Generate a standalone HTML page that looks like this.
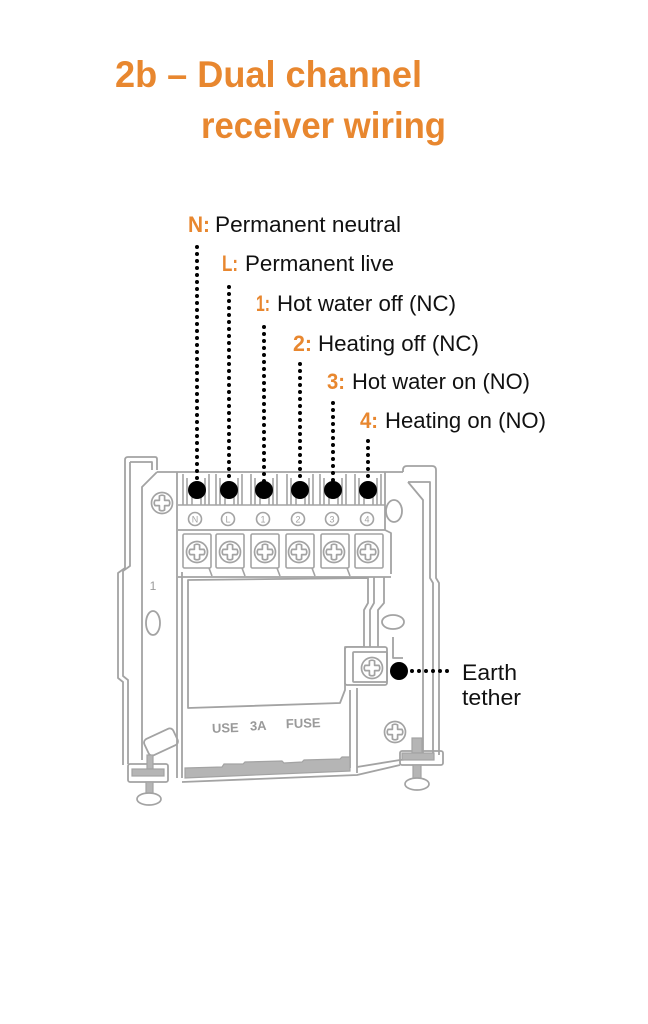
<!DOCTYPE html>
<html><head><meta charset="utf-8"><style>
html,body{margin:0;padding:0;background:#fff;}
svg{display:block;}
</style></head><body>
<svg width="648" height="1024" viewBox="0 0 648 1024" xmlns="http://www.w3.org/2000/svg">
<defs>
<g id="scr" fill="#fff" stroke="#a3a3a3" stroke-width="1.7">
<circle r="10.5"/>
<path d="M-2.6,-7 Q0,-8.6 2.6,-7 L2.6,-2.6 L7,-2.6 Q8.6,0 7,2.6 L2.6,2.6 L2.6,7 Q0,8.6 -2.6,7 L-2.6,2.6 L-7,2.6 Q-8.6,0 -7,-2.6 L-2.6,-2.6 Z" stroke-linejoin="round"/>
</g>
</defs>

<!-- Title -->
<g font-family="Liberation Sans, sans-serif" font-weight="bold" font-size="37" fill="#E8872F">
<text x="115" y="87" textLength="307" lengthAdjust="spacingAndGlyphs">2b – Dual channel</text>
<text x="201" y="138" textLength="245" lengthAdjust="spacingAndGlyphs">receiver wiring</text>
</g>

<!-- Labels -->
<g font-family="Liberation Sans, sans-serif" font-size="22">
<text x="188" y="232" fill="#E8872F" font-weight="bold" textLength="22" lengthAdjust="spacingAndGlyphs">N:</text>
<text x="215" y="232" fill="#111" textLength="186" lengthAdjust="spacingAndGlyphs">Permanent neutral</text>
<text x="222" y="271" fill="#E8872F" font-weight="bold" textLength="16" lengthAdjust="spacingAndGlyphs">L:</text>
<text x="245" y="271" fill="#111" textLength="149" lengthAdjust="spacingAndGlyphs">Permanent live</text>
<text x="256" y="311" fill="#E8872F" font-weight="bold" textLength="14" lengthAdjust="spacingAndGlyphs">1:</text>
<text x="277" y="311" fill="#111" textLength="179" lengthAdjust="spacingAndGlyphs">Hot water off (NC)</text>
<text x="293" y="351" fill="#E8872F" font-weight="bold" textLength="19" lengthAdjust="spacingAndGlyphs">2:</text>
<text x="318" y="351" fill="#111" textLength="161" lengthAdjust="spacingAndGlyphs">Heating off (NC)</text>
<text x="327" y="389" fill="#E8872F" font-weight="bold" textLength="18" lengthAdjust="spacingAndGlyphs">3:</text>
<text x="352" y="389" fill="#111" textLength="178" lengthAdjust="spacingAndGlyphs">Hot water on (NO)</text>
<text x="360" y="428" fill="#E8872F" font-weight="bold" textLength="18" lengthAdjust="spacingAndGlyphs">4:</text>
<text x="385" y="428" fill="#111" textLength="161" lengthAdjust="spacingAndGlyphs">Heating on (NO)</text>
<text x="462" y="680" fill="#111" textLength="55" lengthAdjust="spacingAndGlyphs">Earth</text>
<text x="462" y="705" fill="#111" textLength="59" lengthAdjust="spacingAndGlyphs">tether</text>
</g>

<!-- Plate drawing -->
<g fill="none" stroke="#a3a3a3" stroke-width="1.8" stroke-linejoin="round">
<!-- outer outline left -->
<path d="M157,470 L157,459 Q157,457 155,457 L128,457 Q125,457 125,460 L125,568 L118,573 L118,678 L123,682 L123,765"/>
<path d="M130,462 L152,462 L152,470 M130,462 L130,566 L123,571 L123,676 L128,680 L128,764"/>
<path d="M157,472 L142,487 L142,760"/>
<!-- left frame -->
<path d="M177,472 L177,778"/>
<path d="M182,572 L182,778"/>
<!-- terminal block top -->
<path d="M157,472 L403,472"/>
<path d="M178,530 L385,530"/>
<path d="M385,472 L385,530"/>
<path d="M385,530 L391,533 L391,574"/>
<!-- right tab & wall -->
<path d="M403,472 L403,470 Q403,466 407,466 L432,466 Q436,466 436,470 L436,578 L439,583 L439,755"/>
<path d="M408,482 L430,482 L430,578 L433,583 L433,755"/>
<path d="M408,482 L423,500 L423,758"/>
<!-- aperture -->
<path d="M188,580 L368,578 L368,603 L364,610 L364,647 L345,647 L345,690 L340,703 L188,708 Z"/>
<path d="M374,577 L374,603 L370,610 L370,647"/>
<path d="M384,577 L384,603 L378,610 L378,647"/>
<!-- lip under screw row -->
<path d="M178,577 L391,577"/>
<!-- earth block -->
<rect x="345" y="647" width="42" height="38" rx="2" fill="#fff"/>
<rect x="353" y="652" width="34" height="30" rx="1"/>
<path d="M393,637 L393,658 L403,658"/>
<ellipse cx="393" cy="622" rx="11" ry="7"/>
<!-- channel down -->
<path d="M350,690 L350,768 M357,688 L357,773"/>
<!-- bottom -->
<path d="M182,782 L357,775 L400,765"/>
<path d="M357,767 L400,760 L423,758"/>
<!-- ovals -->
<ellipse cx="153" cy="623" rx="7" ry="12"/>
<ellipse cx="394" cy="511" rx="8" ry="11"/>
<!-- bottom-left tilted rect -->
<rect x="145" y="733" width="32" height="18" rx="4" transform="rotate(-25 161 742)"/>
<!-- bottom-left bracket -->
<rect x="128" y="764" width="40" height="18" rx="2"/>
<!-- bottom-right bracket -->
<rect x="400" y="751" width="43" height="14" rx="2"/>
</g>

<!-- gray filled bits -->
<g fill="#b5b5b5" stroke="#a3a3a3" stroke-width="1.2">
<polygon points="185,768 222,767 224,764 243,764 245,762 282,761 284,763 302,762 304,760 340,759 342,757 350,757 350,771 185,778"/>
<rect x="147" y="755" width="6" height="14"/>
<rect x="132" y="769" width="32" height="7"/>
<rect x="146" y="782" width="7" height="12"/>
<rect x="412" y="738" width="10" height="15"/>
<rect x="402" y="753" width="32" height="7"/>
<rect x="413" y="765" width="8" height="14"/>
</g>
<g fill="#fff" stroke="#a3a3a3" stroke-width="1.7">
<ellipse cx="149" cy="799" rx="12" ry="6"/>
<ellipse cx="417" cy="784" rx="12" ry="6"/>
</g>

<!-- terminals -->
<g fill="none" stroke="#a3a3a3" stroke-width="1.6">
<path d="M183,505 L183,474 M209,474 L209,505 M187,478 L187,505 M205,478 L205,505 M192,497 L192,505 M201,497 L201,505"/>
<path d="M216,505 L216,474 M242,474 L242,505 M220,478 L220,505 M238,478 L238,505 M225,497 L225,505 M234,497 L234,505"/>
<path d="M251,505 L251,474 M277,474 L277,505 M255,478 L255,505 M273,478 L273,505 M260,497 L260,505 M269,497 L269,505"/>
<path d="M287,505 L287,474 M313,474 L313,505 M291,478 L291,505 M309,478 L309,505 M296,497 L296,505 M305,497 L305,505"/>
<path d="M320,505 L320,474 M346,474 L346,505 M324,478 L324,505 M342,478 L342,505 M329,497 L329,505 M338,497 L338,505"/>
<path d="M355,505 L355,474 M381,474 L381,505 M359,478 L359,505 M377,478 L377,505 M364,497 L364,505 M373,497 L373,505"/>
<path d="M178,505 L385,505"/>
<circle cx="195" cy="519" r="6.5"/>
<circle cx="228" cy="519" r="6.5"/>
<circle cx="263" cy="519" r="6.5"/>
<circle cx="298" cy="519" r="6.5"/>
<circle cx="332" cy="519" r="6.5"/>
<circle cx="367" cy="519" r="6.5"/>
<rect x="183" y="534" width="28" height="34" rx="1.5"/>
<rect x="216" y="534" width="28" height="34" rx="1.5"/>
<rect x="251" y="534" width="28" height="34" rx="1.5"/>
<rect x="286" y="534" width="28" height="34" rx="1.5"/>
<rect x="321" y="534" width="28" height="34" rx="1.5"/>
<rect x="355" y="534" width="28" height="34" rx="1.5"/>
<path d="M209,568 L212,576 M242,568 L245,576 M277,568 L280,576 M312,568 L315,576 M347,568 L350,576"/>
</g>
<g font-family="Liberation Sans, sans-serif" font-size="9" fill="#a3a3a3" text-anchor="middle">
<text x="195" y="522.5">N</text>
<text x="228" y="522.5">L</text>
<text x="263" y="522.5">1</text>
<text x="298" y="522.5">2</text>
<text x="332" y="522.5">3</text>
<text x="367" y="522.5">4</text>
</g>
<use href="#scr" x="197" y="552"/>
<use href="#scr" x="230" y="552"/>
<use href="#scr" x="265" y="552"/>
<use href="#scr" x="299" y="552"/>
<use href="#scr" x="334" y="552"/>
<use href="#scr" x="368" y="552"/>
<use href="#scr" x="372" y="668"/>
<use href="#scr" x="162" y="503"/>
<use href="#scr" x="395" y="732"/>

<!-- plate text -->
<g font-family="Liberation Sans, sans-serif" font-weight="bold" font-size="13" fill="#9a9a9a">
<text x="153" y="590" text-anchor="middle" font-weight="normal" font-size="12">1</text>
<g transform="rotate(-2 265 728)">
<text x="212" y="731">USE</text>
<text x="250" y="730">3A</text>
<text x="286" y="729">FUSE</text>
</g>
</g>

<!-- dotted leader lines -->
<g stroke="#000" stroke-width="4" stroke-linecap="round" stroke-dasharray="0 7" fill="none">
<path d="M197,247 L197,482"/>
<path d="M229,287 L229,482"/>
<path d="M264,327 L264,482"/>
<path d="M300,364 L300,482"/>
<path d="M333,403 L333,482"/>
<path d="M368,441 L368,482"/>
<path d="M412,671 L450,671"/>
</g>
<g fill="#000">
<circle cx="197" cy="490" r="9"/>
<circle cx="229" cy="490" r="9"/>
<circle cx="264" cy="490" r="9"/>
<circle cx="300" cy="490" r="9"/>
<circle cx="333" cy="490" r="9"/>
<circle cx="368" cy="490" r="9"/>
<circle cx="399" cy="671" r="9"/>
</g>
</svg>
</body></html>
